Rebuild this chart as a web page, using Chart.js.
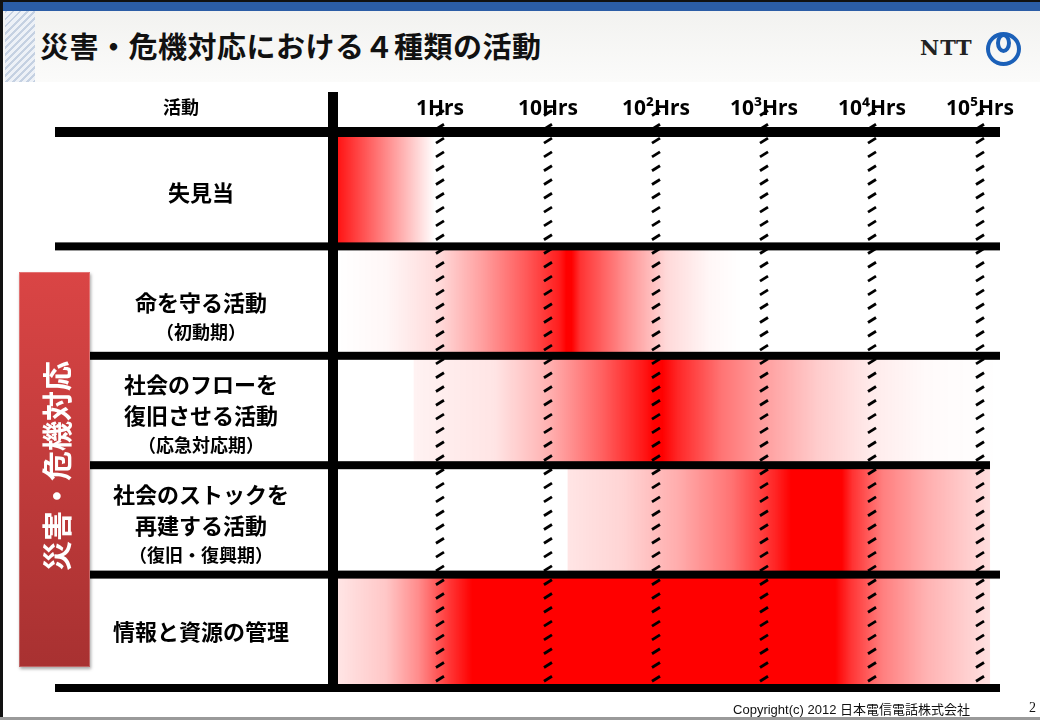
<!DOCTYPE html>
<html lang="ja">
<head>
<meta charset="utf-8">
<title>災害・危機対応における４種類の活動</title>
<script src="https://cdn.jsdelivr.net/npm/chart.js@4.4.1/dist/chart.umd.min.js"></script>
<style>
  body { margin: 0; background: #fff; }
  #slide { position: relative; width: 1040px; height: 720px; overflow: hidden; background: #fff;
           font-family: "Noto Sans CJK JP", "Noto Sans", sans-serif; }
  .abs { position: absolute; }
  #leftLine { left: 0; top: 0; width: 3px; height: 720px; background: #111; }
  #bottomLine { left: 0; top: 717px; width: 1040px; height: 3px; background: #9a9a9a; }
  #topBlack { left: 0; top: 0; width: 1040px; height: 2px; background: #111; }
  #topBlue { left: 3px; top: 2px; width: 1037px; height: 9px; background: #2b5da6; }
  #band { left: 3px; top: 11px; width: 1037px; height: 71px; background: linear-gradient(#f2f2f0, #fbfbfa); }
  #hatch { left: 5px; top: 11px; width: 30px; height: 71px;
           background: repeating-linear-gradient(135deg, #c5d1e2 0 2px, #edf1f7 2px 5px); }
  #title { left: 40px; top: 31px; font-size: 29px; font-weight: bold; line-height: 1; color: #111;
           white-space: nowrap; letter-spacing: 0.5px; }
  #ntt { left: 920px; top: 37px; font-family: "DejaVu Serif", serif; font-weight: bold; font-size: 21px;
         line-height: 1; color: #222; letter-spacing: 1px; }
  #ring { left: 986px; top: 32px; width: 27px; height: 26px; border: 4px solid #1b60b8; border-radius: 50%; }
  #loop { left: 996px; top: 33px; width: 7px; height: 12px; border: 4px solid #1b60b8; border-radius: 50%; }
  #chart { left: 0; top: 0; }
  #redBox { left: 19px; top: 272px; width: 71px; height: 395px;
            background: linear-gradient(#da4545, #a83131);
            box-shadow: inset 0 0 0 1px rgba(255,255,255,0.25), 1px 2px 3px rgba(0,0,0,0.35); }
  #redText { left: 55px; top: 466px; transform: translate(-50%, -50%) rotate(-90deg); color: #fff;
             font-size: 30px; font-weight: bold; white-space: nowrap; line-height: 1; }
  #head { left: 163px; top: 96px; font-size: 18px; font-weight: bold; line-height: 1.2; }
  #copy { right: 70px; top: 699px; font-family: "Liberation Sans", "Noto Sans CJK JP", sans-serif; font-size: 13px; color: #111; }
  #page { left: 1029px; top: 700px; font-family: "Liberation Serif", serif; font-size: 14px; color: #111; }
</style>
</head>
<body>
<div id="slide">
  <div class="abs" id="band"></div>
  <div class="abs" id="hatch"></div>
  <div class="abs" id="topBlack"></div>
  <div class="abs" id="topBlue"></div>
  <div class="abs" id="leftLine"></div>
  <div class="abs" id="bottomLine"></div>
  <div class="abs" id="title">災害・危機対応における４種類の活動</div>
  <div class="abs" id="ntt">NTT</div>
  <div class="abs" id="ring"></div>
  <div class="abs" id="loop"></div>
  <canvas class="abs" id="chart" width="1040" height="720"></canvas>
  <div class="abs" id="redBox"></div>
  <div class="abs" id="redText">災害・危機対応</div>
  <div class="abs" id="head">活動</div>
  <div class="abs" id="copy">Copyright(c) 2012 日本電信電話株式会社</div>
  <div class="abs" id="page">2</div>
</div>
<script>
// 活動の種類 (行)
const categories = [
    ['失見当'],
    ['命を守る活動', '（初動期）'],
    ['社会のフローを', '復旧させる活動', '（応急対応期）'],
    ['社会のストックを', '再建する活動', '（復旧・復興期）'],
    ['情報と資源の管理']
];

// 時間軸: log10(時間)
const tickValues = [0, 1, 2, 3, 4, 5];
const tickLabels = ['1Hrs', '10Hrs', '10²Hrs', '10³Hrs', '10⁴Hrs', '10⁵Hrs'];
const xMin = -0.944;
const xMax = 5.185;

// 各行の帯の範囲 (log10 時間)
const barStart = [xMin, xMin, -0.24, 1.185, xMin];
const barEnd = [0, xMax, xMax, 5.09, 5.09];

// 濃さの変化 [log10 時間, 赤の濃さ 0..1]
const shikkentouLevel = [[xMin, 0.92], [-0.05, 0]];
const inochiLevel = [[xMin, 0], [-0.5, 0.03], [0, 0.15], [0.4, 0.38], [0.8, 0.65], [1.1, 0.88], [1.17, 1],
    [1.22, 1], [1.3, 0.8], [1.7, 0.45], [2.1, 0.15], [2.5, 0.03], [2.8, 0]];
const flowLevel = [[-0.24, 0.05], [0.5, 0.1], [1.0, 0.3], [1.5, 0.62], [1.9, 0.92], [1.98, 1], [2.06, 1],
    [2.2, 0.85], [2.6, 0.55], [3.0, 0.38], [3.5, 0.2], [4.0, 0.08], [4.5, 0.02], [xMax, 0]];
const stockLevel = [[1.185, 0.1], [1.7, 0.17], [2.2, 0.32], [2.7, 0.55], [3.1, 0.85], [3.25, 1], [3.72, 1],
    [3.82, 0.8], [4.1, 0.5], [4.5, 0.32], [5.09, 0.13]];
const kanriLevel = [[xMin, 0.1], [-0.5, 0.22], [-0.2, 0.45], [0.1, 0.8], [0.3, 1], [3.66, 1], [3.8, 0.8],
    [4.1, 0.5], [4.5, 0.3], [5.09, 0.12]];
const levels = [shikkentouLevel, inochiLevel, flowLevel, stockLevel, kanriLevel];

// ラベルの縦ずれ (元の図に合わせる)
const labelShift = [1, 16, 4, 4, 2];

// 行ごとのグラデーション (x軸の位置から作る)
function rowGradient(ctx) {
    const chart = ctx.chart;
    const area = chart.chartArea;
    if (!area || ctx.type !== 'data') return 'rgba(255,0,0,0.3)';
    const xScale = chart.scales.x;
    const g = chart.ctx.createLinearGradient(area.left, 0, area.right, 0);
    levels[ctx.dataIndex].forEach(([v, a]) => {
        const p = (xScale.getPixelForValue(v) - area.left) / (area.right - area.left);
        g.addColorStop(Math.min(1, Math.max(0, p)), `rgba(255,0,0,${a})`);
    });
    return g;
}

// 黒い罫線、時間の破線、行ラベル
const framePlugin = {
    id: 'frame',
    afterDatasetsDraw(chart) {
        const { ctx, chartArea: a, scales: { x, y } } = chart;
        ctx.save();
        ctx.strokeStyle = '#000';
        ctx.lineWidth = 2.8;
        tickValues.forEach(v => {
            const px = x.getPixelForValue(v);
            for (let py = a.top - 24; py < a.bottom - 2; py += 13.8) {
                ctx.beginPath();
                ctx.moveTo(px - 4, py + 2.5);
                ctx.lineTo(px + 4, py - 2.5);
                ctx.stroke();
            }
        });

        ctx.fillStyle = '#000';
        ctx.fillRect(55, a.top - 10, a.right - 55, 10);     // 見出しの下
        ctx.fillRect(55, a.bottom, a.right - 55, 8);        // 一番下
        const lineLeft = [55, 90, 90, 90];
        const lineRight = [a.right, a.right, a.right - 10, a.right];
        for (let i = 0; i < categories.length - 1; i++) {
            const mid = (y.getPixelForValue(i) + y.getPixelForValue(i + 1)) / 2;
            ctx.fillRect(lineLeft[i], mid - 4, lineRight[i] - lineLeft[i], 8);
        }
        ctx.fillRect(a.left - 10, 92, 10, a.bottom + 8 - 92);  // 縦の罫線

        // 行ラベル: 括弧の行は小さく
        ctx.textAlign = 'center';
        ctx.textBaseline = 'middle';
        categories.forEach((lines, i) => {
            const small = lines.map(t => t.startsWith('（'));
            const heights = small.map(s => (s ? 28 : 31));
            const total = heights.reduce((s, h) => s + h, 0);
            let py = y.getPixelForValue(i) - total / 2 + labelShift[i];
            lines.forEach((t, j) => {
                ctx.font = small[j] ? 'bold 18px "Noto Sans CJK JP"' : 'bold 22px "Noto Sans CJK JP"';
                ctx.fillText(t, 201, py + heights[j] / 2);
                py += heights[j];
            });
        });
        ctx.restore();
    }
};

new Chart(document.getElementById('chart'), {
    type: 'bar',
    data: {
        labels: categories.map(l => l.join('')),
        datasets: [{
            data: categories.map((c, i) => [barStart[i], barEnd[i]]),
            backgroundColor: rowGradient,
            borderWidth: 0,
            barPercentage: 1,
            categoryPercentage: 1
        }]
    },
    options: {
        indexAxis: 'y',
        responsive: false,
        animation: false,
        devicePixelRatio: 1,
        layout: { padding: { left: 60, right: 40, top: 85, bottom: 36 } },
        plugins: { legend: { display: false }, tooltip: { enabled: false } },
        scales: {
            x: {
                type: 'linear',
                position: 'top',
                min: xMin,
                max: xMax,
                grid: { display: false },
                border: { display: false },
                afterBuildTicks(s) { s.ticks = tickValues.map(v => ({ value: v })); },
                afterFit(s) { s.height = 52; },
                ticks: {
                    callback: (v, i) => tickLabels[i],
                    color: '#000',
                    font: { family: '"Noto Sans", "Noto Sans CJK JP"', size: 21, weight: 'bold' },
                    padding: 7,
                    maxRotation: 0,
                    autoSkip: false
                }
            },
            y: {
                grid: { display: false },
                border: { display: false },
                afterFit(s) {
                    s.width = 338 - 60;
                    s.paddingTop = 0;
                    s.paddingBottom = 0;
                },
                ticks: { display: false }
            }
        }
    },
    plugins: [framePlugin]
});
</script>
</body>
</html>
